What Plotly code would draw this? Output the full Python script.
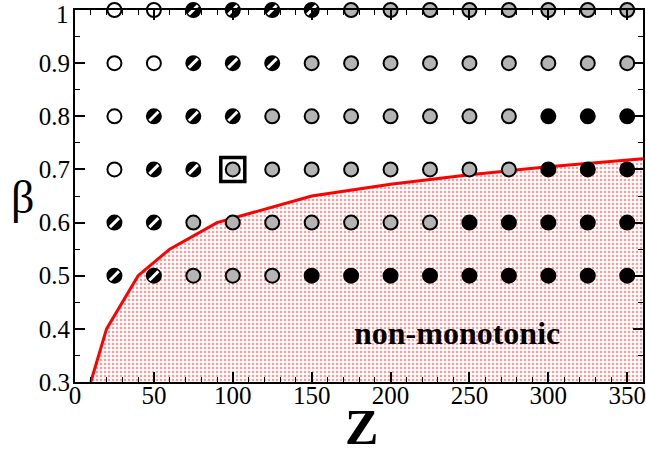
import plotly.graph_objects as go

# ---- data ----
Z_VALUES = [25, 50, 75, 100, 125, 150, 175, 200, 225, 250, 275, 300, 325, 350]
BETA_VALUES = [1.0, 0.9, 0.8, 0.7, 0.6, 0.5]
# O = open, H = hatched, D = dotted grey, S = solid black
STATE_B100 = ["O", "O", "H", "H", "H", "H", "D", "D", "D", "D", "D", "D", "D", "D"]
STATE_B090 = ["O", "O", "H", "H", "H", "D", "D", "D", "D", "D", "D", "D", "D", "D"]
STATE_B080 = ["O", "H", "H", "H", "D", "D", "D", "D", "D", "D", "D", "S", "S", "S"]
STATE_B070 = ["O", "H", "H", "D", "D", "D", "D", "D", "D", "D", "D", "S", "S", "S"]
STATE_B060 = ["H", "H", "D", "D", "D", "D", "D", "D", "D", "S", "S", "S", "S", "S"]
STATE_B050 = ["H", "H", "D", "D", "D", "S", "S", "S", "S", "S", "S", "S", "S", "S"]
STATES = [STATE_B100, STATE_B090, STATE_B080, STATE_B070, STATE_B060, STATE_B050]

BOUNDARY_Z = [10, 20, 40, 60, 90, 150, 200, 250, 300, 360]
BOUNDARY_BETA = [0.3, 0.4, 0.5, 0.55, 0.6, 0.65, 0.672, 0.69, 0.705, 0.72]

BOX_Z = [100]
BOX_BETA = [0.7]

LABEL_TEXT = "non-monotonic"
LABEL_Z = 242
LABEL_BETA = 0.392

X_TICKS = [0, 50, 100, 150, 200, 250, 300, 350]
Y_TICKS = [0.3, 0.4, 0.5, 0.6, 0.7, 0.8, 0.9, 1.0]
Y_TICK_TEXT = ["0.3", "0.4", "0.5", "0.6", "0.7", "0.8", "0.9", ""]
TOP_TICK_VALUE = 1.0
TOP_TICK_TEXT = "1"

SERIF = "Liberation Serif"

# ---- split points by state ----
pts = {"O": ([], []), "H": ([], []), "D": ([], []), "S": ([], [])}
for beta, row in zip(BETA_VALUES, STATES):
    for z, s in zip(Z_VALUES, row):
        pts[s][0].append(z)
        pts[s][1].append(beta)

fig = go.Figure()

# shaded region + boundary
fig.add_trace(go.Scatter(
    x=BOUNDARY_Z, y=BOUNDARY_BETA, mode="lines",
    line=dict(color="red", width=3),
    fill="tozeroy", fillcolor="rgba(0,0,0,0)",
    fillpattern=dict(shape=".", fgcolor="#ff3030", bgcolor="white",
                     size=4, solidity=0.3),
    hoverinfo="skip", showlegend=False))

mk = dict(size=14, line=dict(color="black", width=2))
fig.add_trace(go.Scatter(x=pts["O"][0], y=pts["O"][1], mode="markers",
                         marker=dict(symbol="circle", color="white", **mk),
                         cliponaxis=False, showlegend=False))
fig.add_trace(go.Scatter(x=pts["D"][0], y=pts["D"][1], mode="markers",
                         marker=dict(symbol="circle", color="#b4b4b4", **mk),
                         cliponaxis=False, showlegend=False))
fig.add_trace(go.Scatter(x=pts["S"][0], y=pts["S"][1], mode="markers",
                         marker=dict(symbol="circle", color="black", **mk),
                         cliponaxis=False, showlegend=False))
fig.add_trace(go.Scatter(x=pts["H"][0], y=pts["H"][1], mode="markers",
                         marker=dict(symbol="circle", color="black", **mk),
                         cliponaxis=False, showlegend=False))
fig.add_trace(go.Scatter(x=pts["H"][0], y=pts["H"][1], mode="markers",
                         marker=dict(symbol="line-ne", size=9,
                                     line=dict(color="white", width=3)),
                         cliponaxis=False, showlegend=False))
fig.add_trace(go.Scatter(x=BOX_Z, y=BOX_BETA, mode="markers",
                         marker=dict(symbol="square-open", size=24, color="black",
                                     line=dict(color="black", width=3.5)),
                         cliponaxis=False, showlegend=False))

fig.add_annotation(x=LABEL_Z, y=LABEL_BETA, text="<b>" + LABEL_TEXT + "</b>",
                   showarrow=False,
                   font=dict(family=SERIF, size=32, color="black"))

W, H = 646, 454
L, R, T, B = 75, 3, 10, 72
PW, PH = W - L - R, H - T - B


def px_to_paper(px, py):
    return (px - L) / PW, (H - B - py) / PH


# top "1" tick label, nudged down so it stays inside the page
fig.add_annotation(xref="paper", yref="y", x=px_to_paper(71, 0)[0], y=TOP_TICK_VALUE,
                   text=TOP_TICK_TEXT, showarrow=False, xanchor="right",
                   yanchor="middle", yshift=-4,
                   font=dict(family=SERIF, size=25, color="black"))

bx, by = px_to_paper(22, 197)
fig.add_annotation(xref="paper", yref="paper", x=bx, y=by,
                   text="β", showarrow=False, xanchor="center", yanchor="middle",
                   font=dict(family=SERIF, size=46, color="black"))
zx, zy = px_to_paper(361, 427)
fig.add_annotation(xref="paper", yref="paper", x=zx, y=zy,
                   text="<b>Z</b>", showarrow=False, xanchor="center", yanchor="middle",
                   font=dict(family=SERIF, size=50, color="black"))

axis_common = dict(
    showline=True, linecolor="black", linewidth=2, mirror="ticks",
    ticks="inside", ticklen=10, tickwidth=1.5, tickcolor="black",
    showgrid=False, zeroline=False, automargin=False,
    ticklabeloverflow="allow",
)

fig.update_xaxes(range=[0, 360], tickvals=X_TICKS, ticklabelstandoff=-10,
                 minor=dict(dtick=10, ticks="inside", ticklen=5, tickcolor="black",
                            tickwidth=1.2, showgrid=False),
                 **axis_common)
fig.update_yaxes(range=[0.3, 1.0], tickvals=Y_TICKS, ticktext=Y_TICK_TEXT,
                 ticklabelstandoff=-2,
                 minor=dict(dtick=0.05, ticks="inside", ticklen=5, tickcolor="black",
                            tickwidth=1.2, showgrid=False),
                 **axis_common)

fig.update_layout(width=W, height=H,
                  margin=dict(l=L, r=R, t=T, b=B, pad=0),
                  font=dict(family=SERIF, size=25, color="black"),
                  xaxis_tickfont=dict(family=SERIF, size=25, color="black"),
                  yaxis_tickfont=dict(family=SERIF, size=25, color="black"),
                  plot_bgcolor="white", paper_bgcolor="white")

fig.write_html("out.html", config={"displayModeBar": False},
               post_script="document.body.style.margin='0';")
